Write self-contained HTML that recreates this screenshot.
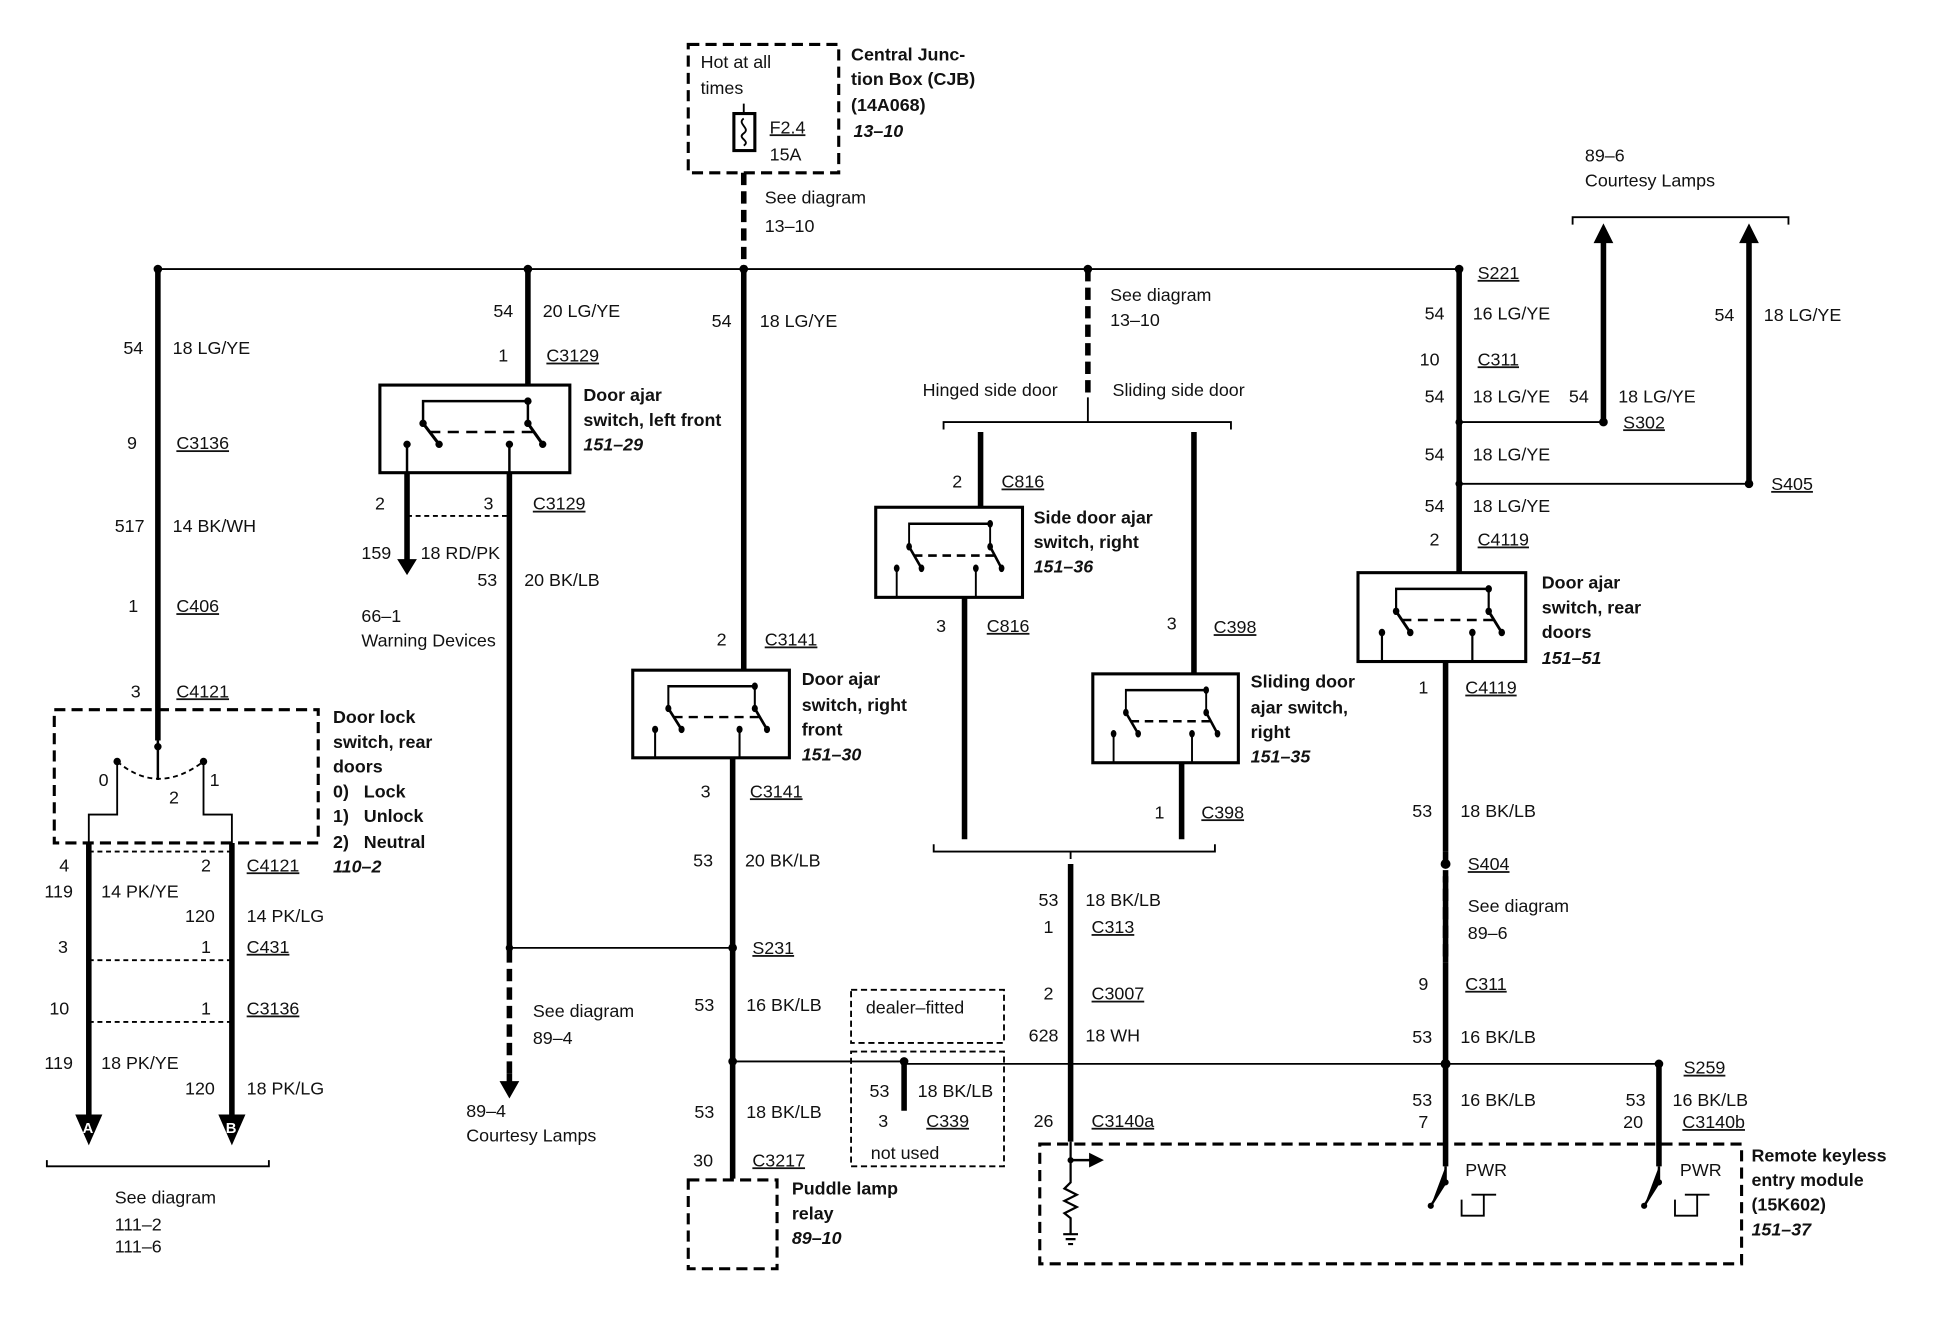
<!DOCTYPE html>
<html><head><meta charset="utf-8"><style>
html,body{margin:0;padding:0;background:#fff;}
svg{display:block;}
text{font-family:"Liberation Sans",sans-serif;font-size:14.5px;fill:#111;}
.b{font-weight:bold;}
.i{font-weight:bold;font-style:italic;}
.w{stroke:#000;stroke-width:4.5;fill:none;}
.t{stroke:#000;stroke-width:1.5;fill:none;}
.d{stroke:#000;stroke-width:2.5;fill:none;stroke-dasharray:9,5;}
.dw{stroke:#000;stroke-width:4.5;fill:none;stroke-dasharray:10,5;}
.bx{stroke:#000;stroke-width:2.5;fill:none;}
.u{text-decoration:underline;}
</style></head><body>
<svg width="1934" height="1328" viewBox="0 0 1568 1076" preserveAspectRatio="none" xmlns="http://www.w3.org/2000/svg">
<defs>
<g id="sw">
<path d="M35 31V13H120V31" stroke="#000" stroke-width="2" fill="none"/>
<path d="M35 31L48 48M120 31L132 48" stroke="#000" stroke-width="2.5"/>
<path d="M40 38H125" stroke="#000" stroke-width="2" stroke-dasharray="9,6"/>
<circle cx="120" cy="13" r="3"/><circle cx="35" cy="31" r="3"/><circle cx="120" cy="31" r="3"/>
<circle cx="48" cy="48" r="3"/><circle cx="132" cy="48" r="3"/>
<circle cx="22" cy="48" r="3"/><circle cx="105" cy="48" r="3"/>
<path d="M22 48V71M105 48V71" stroke="#000" stroke-width="2"/>
</g>
</defs>

<!-- CJB -->
<rect x="558" y="36" width="122" height="104" class="d"/>
<text x="568" y="55">Hot at all</text><text x="568" y="76">times</text>
<rect x="595" y="92" width="17" height="30" class="bx" stroke-width="2"/>
<path d="M603 84V92M603 96c-6 4 6 8 0 12s6 6 0 10" class="t" stroke-width="2"/>
<text x="624" y="108" class="u">F2.4</text><text x="624" y="130">15A</text>
<text x="690" y="49" class="b">Central Junc-</text>
<text x="690" y="69" class="b">tion Box (CJB)</text>
<text x="690" y="90" class="b">(14A068)</text>
<text x="692" y="111" class="i">13–10</text>
<path d="M603 140V218" class="dw"/>
<text x="620" y="165">See diagram</text><text x="620" y="188">13–10</text>

<!-- bus -->
<path d="M128 218H1183" class="t"/>
<g fill="#000"><circle cx="128" cy="218" r="3.5"/><circle cx="428" cy="218" r="3.5"/><circle cx="603" cy="218" r="3.5"/><circle cx="882" cy="218" r="3.5"/><circle cx="1183" cy="218" r="3.5"/></g>

<!-- column 1 -->
<path d="M128 218V600" class="w"/>
<text x="100" y="287">54</text><text x="140" y="287">18 LG/YE</text>
<text x="103" y="364">9</text><text x="143" y="364" class="u">C3136</text>
<text x="93" y="431">517</text><text x="140" y="431">14 BK/WH</text>
<text x="104" y="496">1</text><text x="143" y="496" class="u">C406</text>
<text x="106" y="565">3</text><text x="143" y="565" class="u">C4121</text>
<rect x="44" y="575" width="214" height="108" class="d"/>
<circle cx="128" cy="605" r="3"/>
<path d="M128 600V632" stroke="#000" stroke-width="2"/>
<path d="M95 617Q128 645 165 617" stroke="#000" stroke-width="1.5" fill="none" stroke-dasharray="4,3"/>
<circle cx="95" cy="617" r="3"/><circle cx="165" cy="617" r="3"/>
<path d="M95 617V660H72V683M165 617V660H188V683" stroke="#000" stroke-width="1.5" fill="none"/>
<text x="80" y="637">0</text><text x="137" y="651">2</text><text x="170" y="637">1</text>
<text x="270" y="586" class="b">Door lock</text><text x="270" y="606" class="b">switch, rear</text>
<text x="270" y="626" class="b">doors</text><text x="270" y="646" class="b">0)&#160;&#160;&#160;Lock</text>
<text x="270" y="666" class="b">1)&#160;&#160;&#160;Unlock</text><text x="270" y="687" class="b">2)&#160;&#160;&#160;Neutral</text>
<text x="270" y="707" class="i">110–2</text>
<path d="M72 683V905M188 683V905" class="w"/>
<path d="M72 690H188M72 778H188M72 828H188" class="t" stroke-dasharray="4,3"/>
<text x="48" y="706">4</text><text x="163" y="706">2</text><text x="200" y="706" class="u">C4121</text>
<text x="36" y="727">119</text><text x="82" y="727">14 PK/YE</text>
<text x="150" y="747">120</text><text x="200" y="747">14 PK/LG</text>
<text x="47" y="772">3</text><text x="163" y="772">1</text><text x="200" y="772" class="u">C431</text>
<text x="40" y="822">10</text><text x="163" y="822">1</text><text x="200" y="822" class="u">C3136</text>
<text x="36" y="866">119</text><text x="82" y="866">18 PK/YE</text>
<text x="150" y="887">120</text><text x="200" y="887">18 PK/LG</text>
<path d="M61 903H83L72 928Z M177 903H199L188 928Z" fill="#000"/>
<text x="67" y="918" style="fill:#fff;font-size:12px;font-weight:bold">A</text>
<text x="183" y="918" style="fill:#fff;font-size:12px;font-weight:bold">B</text>
<path d="M38 940V945H218V940" class="t" stroke-width="2.5"/>
<text x="93" y="975">See diagram</text><text x="93" y="997">111–2</text><text x="93" y="1015">111–6</text>

<!-- column 2 -->
<path d="M428 218V312" class="w"/>
<text x="400" y="257">54</text><text x="440" y="257">20 LG/YE</text>
<text x="404" y="293">1</text><text x="443" y="293" class="u">C3129</text>
<rect x="308" y="312" width="154" height="71" class="bx"/>
<use href="#sw" transform="translate(308,312)"/>
<text x="473" y="325" class="b">Door ajar</text><text x="473" y="345" class="b">switch, left front</text><text x="473" y="365" class="i">151–29</text>
<path d="M330 383V455M413 383V770" class="w"/>
<path d="M413 770V870" class="dw"/>
<path d="M413 870V878" class="w"/>
<path d="M322 453H338L330 466Z M405 876H421L413 890Z" fill="#000"/>
<path d="M330 418H413" class="t" stroke-dasharray="4,3"/>
<text x="304" y="413">2</text><text x="392" y="413">3</text><text x="432" y="413" class="u">C3129</text>
<text x="293" y="453">159</text><text x="341" y="453">18 RD/PK</text>
<text x="387" y="475">53</text><text x="425" y="475">20 BK/LB</text>
<text x="293" y="504">66–1</text><text x="293" y="524">Warning Devices</text>
<path d="M413 768H594" class="t"/>
<circle cx="413" cy="768" r="3"/>
<text x="432" y="824">See diagram</text><text x="432" y="846">89–4</text>
<text x="378" y="905">89–4</text><text x="378" y="925">Courtesy Lamps</text>

<!-- column 3 -->
<path d="M603 218V543" class="w"/>
<text x="577" y="265">54</text><text x="616" y="265">18 LG/YE</text>
<text x="581" y="523">2</text><text x="620" y="523" class="u">C3141</text>
<rect x="513" y="543" width="127" height="71" class="bx"/>
<use href="#sw" transform="translate(513,543) scale(0.8247,1)"/>
<text x="650" y="555" class="b">Door ajar</text><text x="650" y="576" class="b">switch, right</text><text x="650" y="596" class="b">front</text><text x="650" y="616" class="i">151–30</text>
<path d="M594 614V955" class="w"/>
<text x="568" y="646">3</text><text x="608" y="646" class="u">C3141</text>
<text x="562" y="702">53</text><text x="604" y="702">20 BK/LB</text>
<circle cx="594" cy="768" r="3.5"/><text x="610" y="773" class="u">S231</text>
<text x="563" y="819">53</text><text x="605" y="819">16 BK/LB</text>
<circle cx="594" cy="860" r="3.5"/>
<path d="M594 860H733M733 862H1345" class="t"/>
<text x="563" y="906">53</text><text x="605" y="906">18 BK/LB</text>
<text x="562" y="945">30</text><text x="610" y="945" class="u">C3217</text>
<rect x="558" y="956" width="72" height="72" class="d"/>
<text x="642" y="968" class="b">Puddle lamp</text><text x="642" y="988" class="b">relay</text><text x="642" y="1008" class="i">89–10</text>
<rect x="690" y="802" width="124" height="43" class="t" stroke-dasharray="5,3"/>
<text x="702" y="821">dealer–fitted</text>
<rect x="690" y="852" width="124" height="93" class="t" stroke-dasharray="5,3"/>
<circle cx="733" cy="860" r="3.5"/><path d="M733 860V900" class="w"/>
<text x="705" y="889">53</text><text x="744" y="889">18 BK/LB</text>
<text x="712" y="913">3</text><text x="751" y="913" class="u">C339</text>
<text x="706" y="939">not used</text>

<!-- column 4 -->
<path d="M882 218V322" class="dw"/>
<text x="900" y="244">See diagram</text><text x="900" y="264">13–10</text>
<text x="748" y="321">Hinged side door</text><text x="902" y="321">Sliding side door</text>
<path d="M882 322V342M765 348V342H998V348" class="t" stroke-width="2.5"/>
<path d="M795 350V411M968 350V546" class="w"/>
<text x="772" y="395">2</text><text x="812" y="395" class="u">C816</text>
<rect x="710" y="411" width="119" height="73" class="bx"/>
<use href="#sw" transform="translate(710,411) scale(0.773,1.03)"/>
<text x="838" y="424" class="b">Side door ajar</text><text x="838" y="444" class="b">switch, right</text><text x="838" y="464" class="i">151–36</text>
<path d="M782 484V680" class="w"/>
<text x="759" y="512">3</text><text x="800" y="512" class="u">C816</text>
<text x="946" y="510">3</text><text x="984" y="513" class="u">C398</text>
<rect x="886" y="546" width="118" height="72" class="bx"/>
<use href="#sw" transform="translate(886,546) scale(0.766,1.01)"/>
<text x="1014" y="557" class="b">Sliding door</text><text x="1014" y="578" class="b">ajar switch,</text><text x="1014" y="598" class="b">right</text><text x="1014" y="618" class="i">151–35</text>
<path d="M958 618V680" class="w"/>
<text x="936" y="663">1</text><text x="974" y="663" class="u">C398</text>
<path d="M757 684V690H985V684M868 690V696" class="t" stroke-width="2.5"/>
<path d="M868 700V925" class="w"/>
<text x="842" y="734">53</text><text x="880" y="734">18 BK/LB</text>
<text x="846" y="756">1</text><text x="885" y="756" class="u">C313</text>
<text x="846" y="810">2</text><text x="885" y="810" class="u">C3007</text>
<text x="834" y="844">628</text><text x="880" y="844">18 WH</text>
<text x="838" y="913">26</text><text x="885" y="913" class="u">C3140a</text>

<!-- right column -->
<path d="M1183 218V464" class="w"/>
<text x="1198" y="226" class="u">S221</text>
<text x="1155" y="259">54</text><text x="1194" y="259">16 LG/YE</text>
<text x="1151" y="296">10</text><text x="1198" y="296" class="u">C311</text>
<text x="1155" y="326">54</text><text x="1194" y="326">18 LG/YE</text>
<text x="1272" y="326">54</text><text x="1312" y="326">18 LG/YE</text>
<path d="M1183 342H1300M1183 392H1418" class="t"/>
<circle cx="1183" cy="342" r="3"/><circle cx="1300" cy="342" r="3.5"/>
<circle cx="1183" cy="392" r="3"/><circle cx="1418" cy="392" r="3.5"/>
<text x="1316" y="347" class="u">S302</text><text x="1436" y="397" class="u">S405</text>
<text x="1155" y="373">54</text><text x="1194" y="373">18 LG/YE</text>
<text x="1155" y="415">54</text><text x="1194" y="415">18 LG/YE</text>
<text x="1159" y="442">2</text><text x="1198" y="442" class="u">C4119</text>
<path d="M1300 342V195M1418 392V195" class="w"/>
<path d="M1292 197H1308L1300 181Z M1410 197H1426L1418 181Z" fill="#000"/>
<path d="M1275 182V176H1450V182" class="t" stroke-width="2.5"/>
<text x="1285" y="131">89–6</text><text x="1285" y="151">Courtesy Lamps</text>
<text x="1390" y="260">54</text><text x="1430" y="260">18 LG/YE</text>
<rect x="1101" y="464" width="136" height="72" class="bx"/>
<use href="#sw" transform="translate(1101,464) scale(0.883,1.01)"/>
<text x="1250" y="477" class="b">Door ajar</text><text x="1250" y="497" class="b">switch, rear</text><text x="1250" y="517" class="b">doors</text><text x="1250" y="538" class="i">151–51</text>
<path d="M1172 536V690M1172 710V780M1172 790V945" class="w"/>
<path d="M1172 690V790" class="dw"/>
<text x="1150" y="562">1</text><text x="1188" y="562" class="u">C4119</text>
<text x="1145" y="662">53</text><text x="1184" y="662">18 BK/LB</text>
<circle cx="1172" cy="700" r="4"/><text x="1190" y="705" class="u">S404</text>
<text x="1190" y="739">See diagram</text><text x="1190" y="761">89–6</text>
<text x="1150" y="802">9</text><text x="1188" y="802" class="u">C311</text>
<text x="1145" y="845">53</text><text x="1184" y="845">16 BK/LB</text>
<circle cx="1172" cy="862" r="4"/><circle cx="1345" cy="862" r="3.5"/>
<text x="1365" y="870" class="u">S259</text>
<path d="M1345 862V945" class="w"/>
<text x="1145" y="896">53</text><text x="1184" y="896">16 BK/LB</text>
<text x="1150" y="914">7</text>
<text x="1318" y="896">53</text><text x="1356" y="896">16 BK/LB</text>
<text x="1316" y="914">20</text><text x="1364" y="914" class="u">C3140b</text>

<!-- RKE module -->
<rect x="843" y="927" width="569" height="97" class="d"/>
<text x="1420" y="941" class="b">Remote keyless</text><text x="1420" y="961" class="b">entry module</text><text x="1420" y="981" class="b">(15K602)</text><text x="1420" y="1001" class="i">151–37</text>
<path d="M868 925V958l-5 5 10 5-10 5 10 5-10 5 5 4V1000M862 1000h12M864 1004h8M866 1008h4" stroke="#000" stroke-width="1.8" fill="none"/>
<path d="M868 940H885" stroke="#000" stroke-width="2"/><path d="M883 934L895 940L883 946Z" fill="#000"/>
<circle cx="868" cy="940" r="2.5"/>
<path d="M1172 945V958L1160 977M1345 945V958L1333 977" stroke="#000" stroke-width="2"/>
<circle cx="1172" cy="958" r="2.5"/><circle cx="1160" cy="977" r="2.5"/><circle cx="1345" cy="958" r="2.5"/><circle cx="1333" cy="977" r="2.5"/>
<path d="M1193 968H1213M1203 968V985H1185V972M1366 968H1386M1376 968V985H1358V972" stroke="#000" stroke-width="1.5" fill="none"/>
<text x="1188" y="953">PWR</text><text x="1362" y="953">PWR</text>
</svg>
</body></html>
